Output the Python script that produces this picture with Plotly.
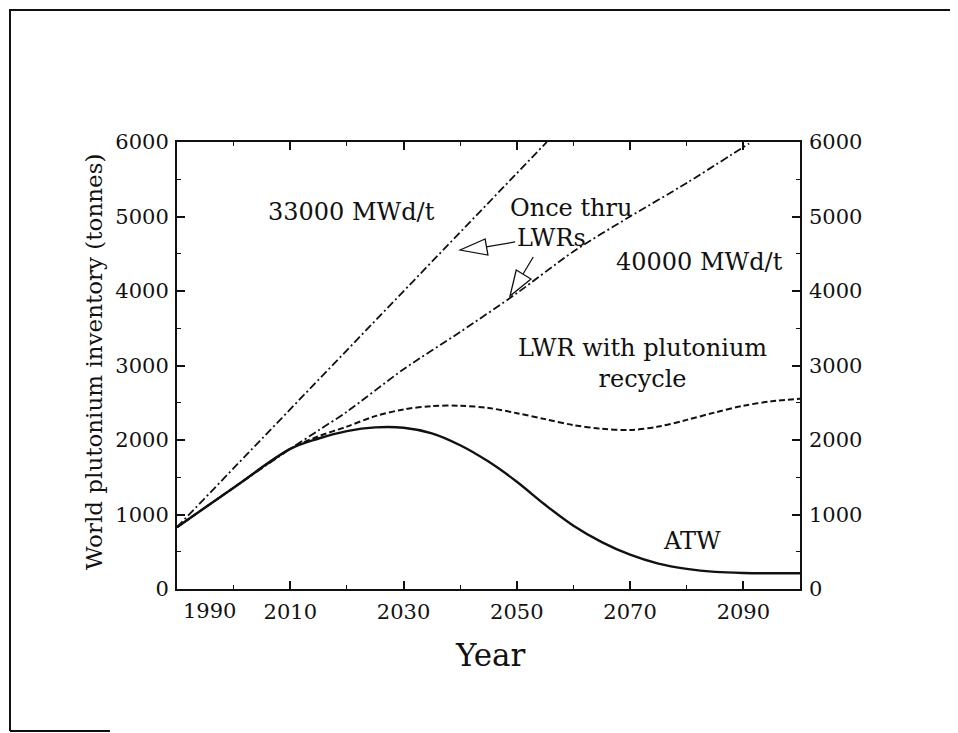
import plotly.graph_objects as go

# ---- data ----
years_33000 = [1990, 2000, 2010, 2020, 2030, 2040, 2050, 2055.3]
pu_33000 = [830, 1620, 2410, 3200, 3990, 4780, 5580, 6000]

years_40000 = [1990, 2000, 2010, 2015, 2020, 2030, 2040, 2050, 2060, 2070, 2080, 2091]
pu_40000 = [830, 1360, 1880, 2130, 2380, 2950, 3450, 3970, 4530, 5000, 5450, 5980]

years_recycle = [1990, 2000, 2010, 2015, 2020, 2025, 2030, 2035, 2040, 2045, 2050,
                 2055, 2060, 2065, 2070, 2075, 2080, 2085, 2090, 2095, 2100]
pu_recycle = [830, 1360, 1880, 2050, 2180, 2320, 2410, 2455, 2460, 2430, 2360,
              2280, 2200, 2150, 2135, 2180, 2270, 2370, 2460, 2520, 2555]

years_atw = [1990, 2000, 2010, 2015, 2020, 2025, 2030, 2035, 2040, 2045, 2050,
             2055, 2060, 2065, 2070, 2075, 2080, 2085, 2090, 2095, 2100]
pu_atw = [830, 1360, 1880, 2020, 2120, 2170, 2165, 2090, 1930, 1710, 1440,
          1130, 850, 630, 460, 340, 270, 230, 215, 212, 212]

x_tickvals = [2010, 2030, 2050, 2070, 2090]
x_ticktext = ["2010", "2030", "2050", "2070", "2090"]
y_tickvals = [0, 1000, 2000, 3000, 4000, 5000, 6000]
y_ticktext = ["0", "1000", "2000", "3000", "4000", "5000", "6000"]

# annotation arrows (open triangles), in data units: line start, line end, base1, tip, base2
arrow1 = [(2049.7, 4658), (2044.6, 4591), (2044.4, 4698), (2040.0, 4550), (2044.9, 4483)]
arrow2 = [(2052.9, 4456), (2051.1, 4228), (2049.9, 4282), (2048.8, 3933), (2052.5, 4161)]

FONT = "DejaVu Serif"
BLACK = "#111111"

# page has an 8px body margin: plot area target in screen px 177..800 x 142..589
OFF = 8
L, R, T, B = 177 - OFF, 950 - (800 - OFF), 142 - OFF, 725 - (589 - OFF)
PW, PH = 623.0, 447.0


def px(sx):
    return (sx - 177) / PW


def py(sy):
    return (589 - sy) / PH


fig = go.Figure()

dashdot = "8px,3px,2px,3px"
fig.add_trace(go.Scatter(x=years_33000, y=pu_33000, mode="lines",
                         line=dict(color=BLACK, width=1.8, dash=dashdot),
                         showlegend=False, hoverinfo="skip"))
fig.add_trace(go.Scatter(x=years_40000, y=pu_40000, mode="lines",
                         line=dict(color=BLACK, width=1.8, dash=dashdot, shape="spline", smoothing=0.8),
                         showlegend=False, hoverinfo="skip"))
fig.add_trace(go.Scatter(x=years_recycle, y=pu_recycle, mode="lines",
                         line=dict(color=BLACK, width=2, dash="6px,3px", shape="spline", smoothing=0.9),
                         showlegend=False, hoverinfo="skip"))
fig.add_trace(go.Scatter(x=years_atw, y=pu_atw, mode="lines",
                         line=dict(color=BLACK, width=2.4, shape="spline", smoothing=1.0),
                         showlegend=False, hoverinfo="skip"))
# invisible trace to carry the right-hand axis
fig.add_trace(go.Scatter(x=years_atw, y=pu_atw, mode="lines", yaxis="y2",
                         line=dict(color="rgba(0,0,0,0)", width=0),
                         showlegend=False, hoverinfo="skip"))

for arr in (arrow1, arrow2):
    (sx, sy), (ex, ey), b1, tip, b2 = arr
    fig.add_shape(type="line", xref="x", yref="y", x0=sx, y0=sy, x1=ex, y1=ey,
                  line=dict(color=BLACK, width=1.3))
    path = "M {},{} L {},{} L {},{} Z".format(b1[0], b1[1], tip[0], tip[1], b2[0], b2[1])
    fig.add_shape(type="path", xref="x", yref="y", path=path,
                  line=dict(color=BLACK, width=1.3), fillcolor="white")

# outer frame of the scanned page (left, top, and a short bottom stub)
frame_path = "M {},{} L {},{} L {},{} M {},{} L {},{}".format(
    px(10), py(731), px(10), py(10), px(975), py(10), px(10), py(731), px(110), py(731))
fig.add_shape(type="path", xref="paper", yref="paper", path=frame_path,
              line=dict(color=BLACK, width=2), layer="below")

ann_font = dict(family=FONT, size=24, color=BLACK)
annotations = [
    dict(x=351, y=212, text="33000 MWd/t"),
    dict(x=571, y=208, text="Once thru"),
    dict(x=551, y=238, text="LWRs"),
    dict(x=699, y=262, text="40000 MWd/t"),
    dict(x=642, y=363, text="LWR with plutonium<br>recycle"),
    dict(x=692, y=541, text="ATW"),
]
for a in annotations:
    fig.add_annotation(xref="paper", yref="paper", x=px(a["x"]), y=py(a["y"]), text=a["text"],
                       showarrow=False, font=ann_font, xanchor="center", yanchor="middle")

tick_font = dict(family=FONT, size=21, color=BLACK)
# shifted first x label, axis titles
fig.add_annotation(xref="paper", yref="paper", x=px(209), y=py(611),
                   text="1990", showarrow=False, font=tick_font,
                   xanchor="center", yanchor="middle")
fig.add_annotation(xref="paper", yref="paper", x=px(490), y=py(655),
                   text="Year", showarrow=False, font=dict(family=FONT, size=31, color=BLACK),
                   xanchor="center", yanchor="middle")
fig.add_annotation(xref="paper", yref="paper", x=px(94), y=py(362),
                   text="World plutonium inventory (tonnes)", textangle=-90, showarrow=False,
                   font=dict(family=FONT, size=23, color=BLACK),
                   xanchor="center", yanchor="middle")

fig.update_layout(
    width=950, height=725,
    margin=dict(l=L, r=R, t=T, b=B),
    paper_bgcolor="white", plot_bgcolor="white",
    xaxis=dict(range=[1990, 2100], tickmode="array", tickvals=x_tickvals, ticktext=x_ticktext,
               ticks="inside", ticklen=8, tickwidth=1.5, tickcolor=BLACK,
               minor=dict(dtick=10, tick0=1990, ticks="inside", ticklen=4, tickwidth=1.2, tickcolor=BLACK),
               showline=True, linecolor=BLACK, linewidth=2, mirror="ticks",
               showgrid=False, zeroline=False, tickfont=tick_font, ticklabelstandoff=3),
    yaxis=dict(range=[0, 6000], tickmode="array", tickvals=y_tickvals, ticktext=y_ticktext,
               ticks="inside", ticklen=8, tickwidth=1.5, tickcolor=BLACK,
               minor=dict(dtick=500, tick0=0, ticks="inside", ticklen=4, tickwidth=1.2, tickcolor=BLACK),
               showline=True, linecolor=BLACK, linewidth=2, mirror="ticks",
               showgrid=False, zeroline=False, tickfont=tick_font, ticklabelstandoff=2),
    yaxis2=dict(range=[0, 6000], overlaying="y", side="right", tickmode="array",
                tickvals=y_tickvals, ticktext=y_ticktext, ticks="inside", ticklen=8,
                tickwidth=1.5, tickcolor=BLACK, showline=False, showgrid=False, zeroline=False,
                tickfont=tick_font, ticklabelstandoff=8),
)

fig.write_html("out.html")
